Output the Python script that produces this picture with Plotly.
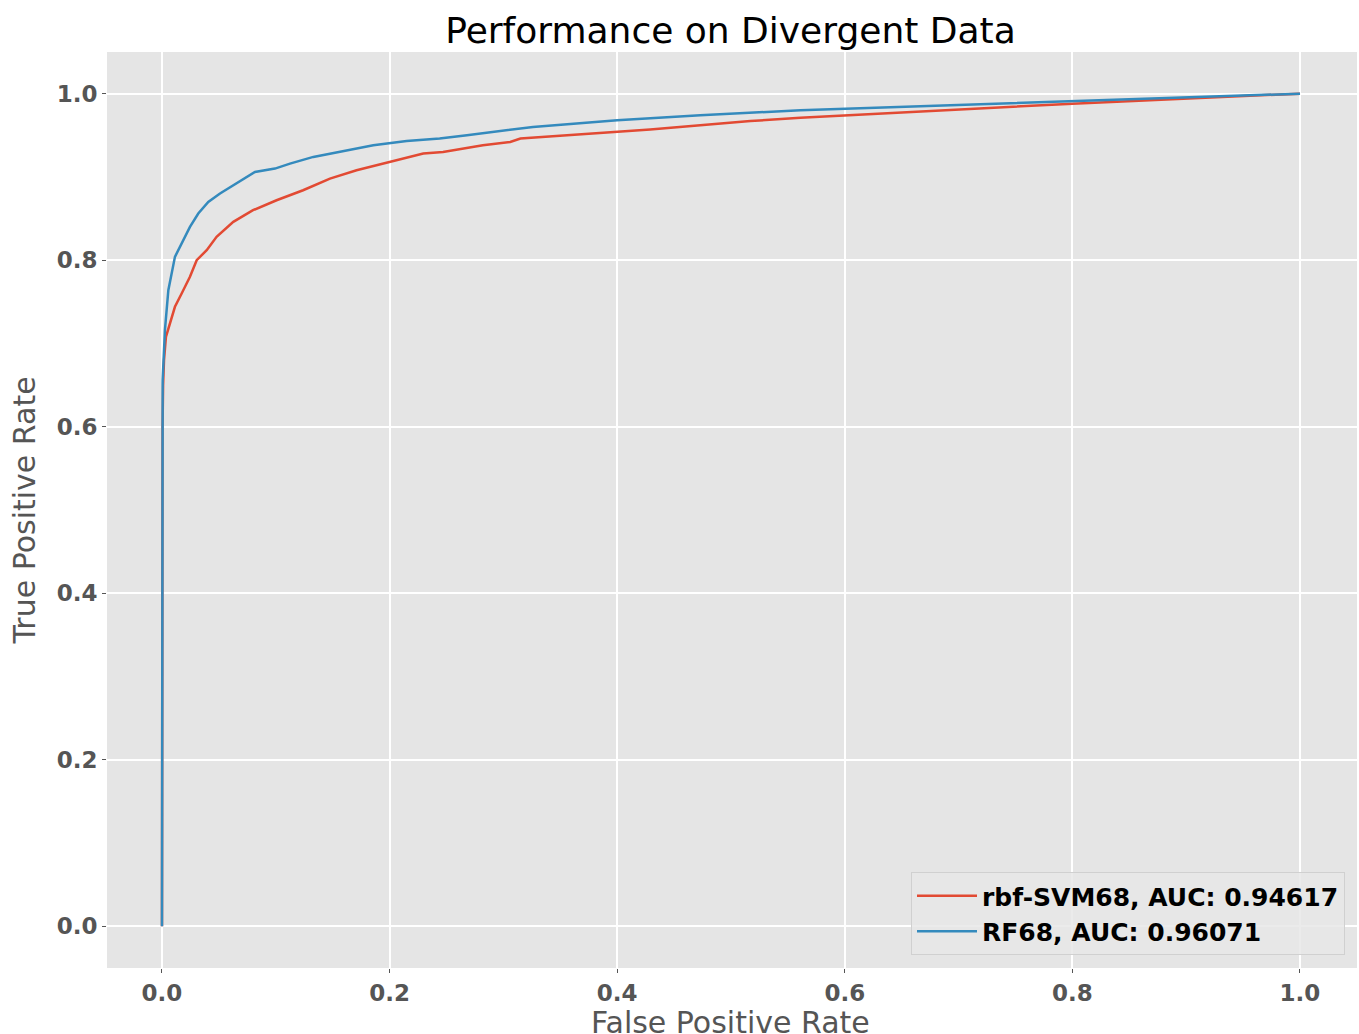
import plotly.graph_objects as go

# ROC curve points
svm_fpr = [0.0, 0.0, 0.0005, 0.001, 0.0018, 0.0035, 0.0114, 0.0173, 0.0246, 0.0305, 0.0393,
           0.048, 0.0627, 0.080, 0.1007, 0.124, 0.1476, 0.171, 0.200, 0.2296, 0.247,
           0.282, 0.306, 0.315, 0.356, 0.40, 0.429, 0.473, 0.517, 0.561, 0.649, 0.80, 1.0]
svm_tpr = [0.0, 0.40, 0.60, 0.65, 0.68, 0.708, 0.744, 0.760, 0.780, 0.800, 0.812,
           0.828, 0.846, 0.860, 0.872, 0.884, 0.898, 0.908, 0.918, 0.928, 0.930,
           0.938, 0.942, 0.946, 0.950, 0.954, 0.957, 0.962, 0.967, 0.971, 0.977, 0.988, 1.0]

rf_fpr = [0.0, 0.0, 0.0, 0.0006, 0.0026, 0.0056, 0.0114, 0.0173, 0.0246, 0.0319, 0.0407,
          0.051, 0.0627, 0.0817, 0.0993, 0.1125, 0.133, 0.156, 0.1857, 0.215, 0.244,
          0.268, 0.326, 0.40, 0.473, 0.561, 0.649, 0.80, 1.0]
rf_tpr = [0.0, 0.40, 0.60, 0.656, 0.716, 0.764, 0.804, 0.820, 0.840, 0.856, 0.870,
          0.880, 0.890, 0.906, 0.910, 0.916, 0.924, 0.930, 0.938, 0.943, 0.946,
          0.950, 0.960, 0.968, 0.974, 0.980, 0.984, 0.991, 1.0]

series_names = ["rbf-SVM68, AUC: 0.94617", "RF68, AUC: 0.96071"]
tick_vals = [0.0, 0.2, 0.4, 0.6, 0.8, 1.0]
tick_text = ["0.0", "0.2", "0.4", "0.6", "0.8", "1.0"]
x_title = "False Positive Rate"
y_title = "True Positive Rate"
chart_title = "Performance on Divergent Data"

fig = go.Figure()
fig.add_trace(go.Scatter(x=svm_fpr, y=svm_tpr, mode="lines", name=series_names[0],
                         line=dict(color="#E24A33", width=2.5)))
fig.add_trace(go.Scatter(x=rf_fpr, y=rf_tpr, mode="lines", name=series_names[1],
                         line=dict(color="#348ABD", width=2.5)))

font_family = "DejaVu Sans"
axis_common = dict(
    tickvals=tick_vals, ticktext=tick_text,
    showgrid=True, gridcolor="white", gridwidth=1.5,
    zeroline=False, showline=False, automargin=False,
    ticks="outside", ticklen=4, tickwidth=1, tickcolor="#555555",
    tickfont=dict(family=font_family, size=23, color="#555555", weight="bold"),
)

W, H = 1359, 1034
fig.update_layout(
    width=W, height=H,
    margin=dict(l=107, r=2, t=52, b=66, autoexpand=False),
    paper_bgcolor="white", plot_bgcolor="#E5E5E5",
    title=dict(text=chart_title, x=730.5 / W, xanchor="center",
               y=1 - 30 / H, yanchor="middle",
               font=dict(family=font_family, size=36, color="black")),
    xaxis=dict(range=[-0.0483, 1.0501], **axis_common),
    yaxis=dict(range=[-0.05, 1.05],
               title=dict(text=y_title, standoff=12,
                          font=dict(family=font_family, size=30, color="#555555")),
               **axis_common),
    legend=dict(x=(1345 - 107) / 1250, y=(968 - 955) / 916, xanchor="right", yanchor="bottom",
                bgcolor="rgba(232,232,232,0.85)", bordercolor="#D0D0D0", borderwidth=1,
                font=dict(family=font_family, size=25, color="black", weight="bold"),
                itemwidth=60, tracegroupgap=6),
    showlegend=True,
    annotations=[dict(text=x_title, xref="paper", yref="paper",
                      x=(730.5 - 107) / 1250, y=-(1022 - 968) / 916,
                      xanchor="center", yanchor="middle", showarrow=False,
                      font=dict(family=font_family, size=30, color="#555555"))],
)

fig.write_html(
    "out.html",
    config={"displayModeBar": False},
    post_script="document.body.style.margin='0';document.body.style.overflow='hidden';",
)
